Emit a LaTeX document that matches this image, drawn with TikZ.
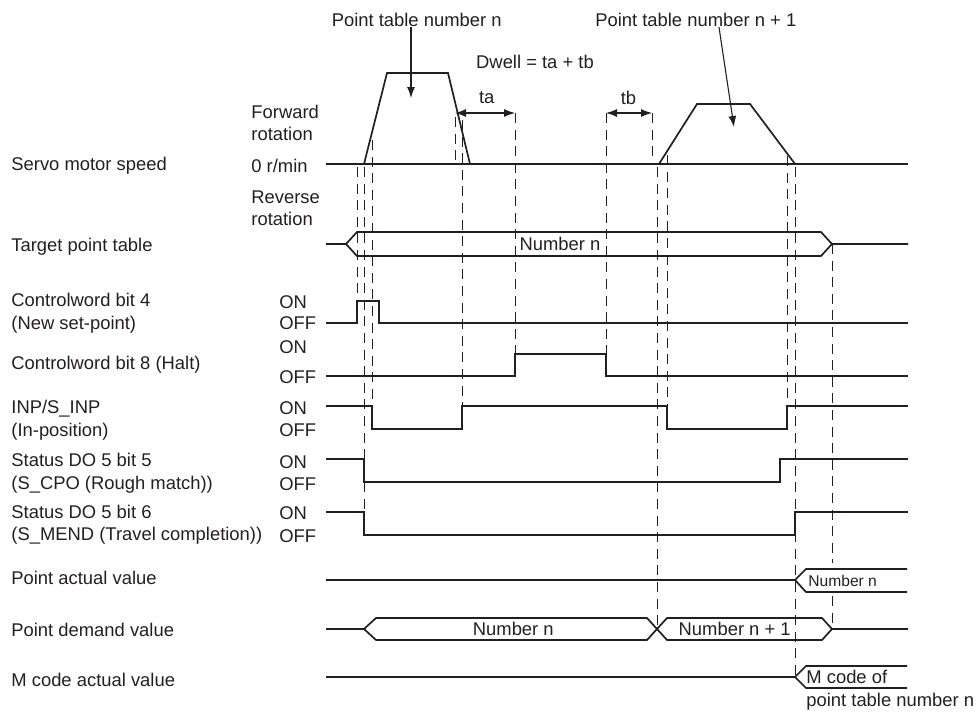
\documentclass[tikz,border=0pt]{standalone}
\usepackage{fontspec}
\setmainfont{Liberation Sans}
\usetikzlibrary{arrows.meta}
\definecolor{TimInk}{RGB}{35,31,32}
\tikzset{
  tim sig/.style={draw=TimInk, line width=0.85pt},
  tim dash/.style={draw=TimInk, line width=0.5pt, dash pattern=on 5pt off 3.3pt},
  tim label/.style={font=\fontsize{9.2}{11.25}\selectfont, text=TimInk, inner sep=0pt, align=left, anchor=west},
  tim small/.style={font=\fontsize{7.8}{9}\selectfont, text=TimInk, inner sep=0pt, anchor=west},
  tim arrow/.style={-{Latex[length=5.5pt,width=4pt]}, line width=0.55pt, TimInk},
  tim span/.style={{Latex[length=5.5pt,width=4pt]}-{Latex[length=5.5pt,width=4pt]}, line width=0.55pt, TimInk}
}

\begin{document}
\begin{tikzpicture}[x=0.5pt,y=-0.5pt]
\useasboundingbox (0,0) rectangle (976,713);

% signal names
\node[tim label] (speed) at (11,166) {Servo motor speed};
\node[tim label] (target) at (11,247) {Target point table};
\node[tim label] (cw4) at (11,313) {Controlword bit 4\\(New set-point)};
\node[tim label] (cw8) at (11,365) {Controlword bit 8 (Halt)};
\node[tim label] (inp) at (11,420) {INP/S\_INP\\(In-position)};
\node[tim label] (cpo) at (11,473) {Status DO 5 bit 5\\(S\_CPO (Rough match))};
\node[tim label] (mend) at (11,524.5) {Status DO 5 bit 6\\(S\_MEND (Travel completion))};
\node[tim label] (pact) at (11,578.3) {Point actual value};
\node[tim label] (pdem) at (11,630) {Point demand value};
\node[tim label] (mcode) at (11,680) {M code actual value};

% speed axis
\node[tim label] (fwd) at (251,123) {Forward\\rotation};
\node[tim label] (zero) at (251,166) {0 r/min};
\node[tim label] (rev) at (251,208.5) {Reverse\\rotation};

% ON / OFF
\foreach \n/\yon/\yoff in {cw4/301.7/323, cw8/346.7/376.7, inp/408/430, cpo/461.7/484, mend/513.3/535.7} {
  \node[tim label] (\n on) at (279,\yon) {ON};
  \node[tim label] (\n off) at (279,\yoff) {OFF};
}

% dashed timing marks
\foreach \x/\ya/\yb in {357/167/301, 364/167/512, 372/140/406, 455/117/164,
    462/120/406, 515/113/354, 606/113/354, 652/113/164, 657/167/629,
    667/155/406, 787/156/406, 795/167/677, 832/244/563, 832/596/629}
  \draw[tim dash] (\x,\ya) -- (\x,\yb);

% servo motor speed
\draw[tim sig] (326,164) -- (908,164);
\draw[tim sig] (364,164) -- (387,73) -- (448,73) -- (470,164);
\draw[tim sig] (659,164) -- (697,104) -- (750,104) -- (795,164);

% point table labels
\node[tim label, anchor=center] (ptn) at (416.7,20) {Point table number n};
\node[tim label, anchor=center] (ptn1) at (695.8,20) {Point table number n + 1};
\coordinate (ptnTip) at (411,98);
\coordinate (ptn1Tip) at (734,127);
\draw[tim arrow] (ptn.south -| ptnTip) -- (ptnTip);
\draw[tim arrow] ([xshift=11.6pt]ptn1.south) -- (ptn1Tip);

% dwell
\node[tim label, anchor=center] (dwell) at (535,62) {Dwell = ta + tb};
\node[tim label, anchor=center] (ta) at (486.7,98) {ta};
\node[tim label, anchor=center] (tb) at (628.5,98) {tb};
\coordinate (taL) at (455,113);
\coordinate (taR) at (515,113);
\coordinate (tbL) at (606,113);
\coordinate (tbR) at (652,113);
\draw[tim span] (taL) -- (taR);
\draw[tim span] (tbL) -- (tbR);

% target point table
\draw[tim sig] (326,244) -- (346,244) -- (357,232) -- (821,232) -- (832,244) -- (908,244);
\draw[tim sig] (346,244) -- (357,256) -- (821,256) -- (832,244);
\node[tim label, anchor=center] (tgtn) at (560,244) {Number n};

% controlword bits
\draw[tim sig] (326,323) -- (357,323) -- (357,301) -- (379,301) -- (379,323) -- (908,323);
\draw[tim sig] (326,376) -- (515,376) -- (515,354) -- (606,354) -- (606,376) -- (908,376);

% INP, S_CPO, S_MEND
\draw[tim sig] (326,406) -- (372,406) -- (372,429) -- (462,429) -- (462,406) -- (667,406)
  -- (667,429) -- (787,429) -- (787,406) -- (908,406);
\draw[tim sig] (326,459) -- (364,459) -- (364,482) -- (780,482) -- (780,459) -- (908,459);
\draw[tim sig] (326,512) -- (364,512) -- (364,535) -- (795,535) -- (795,512) -- (908,512);

% point actual value
\draw[tim sig] (326,580) -- (795,580) -- (806,569) -- (907,569);
\draw[tim sig] (795,580) -- (806,592) -- (907,592);
\node[tim small] (pactn) at (808,580.5) {Number n};

% point demand value
\draw[tim sig] (326,629) -- (364,629) -- (376,618) -- (647,618) -- (657,629)
  -- (667,618) -- (822,618) -- (832,629) -- (908,629);
\draw[tim sig] (364,629) -- (376,640) -- (647,640) -- (657,629)
  -- (667,640) -- (822,640) -- (832,629);
\node[tim label, anchor=center] (pdemn) at (513.3,629) {Number n};
\node[tim label, anchor=center] (pdemn1) at (734.7,629) {Number n + 1};

% M code actual value
\draw[tim sig] (326,677) -- (795,677) -- (806,666) -- (907,666);
\draw[tim sig] (795,677) -- (806,688) -- (907,688);
\node[tim label] (mcoden) at (806,690) {M code of\\point table number n};
\end{tikzpicture}
\end{document}
